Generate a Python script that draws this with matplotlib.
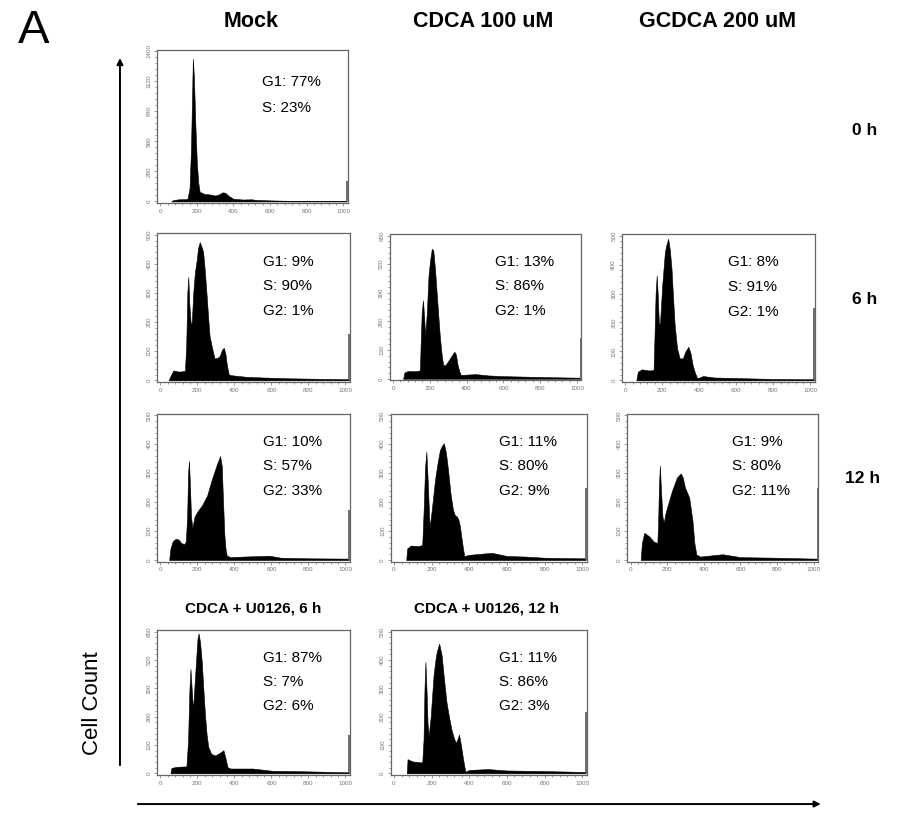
#!/usr/bin/env python3
import matplotlib
matplotlib.use("Agg")
import matplotlib.pyplot as plt
from matplotlib.patches import FancyArrowPatch
from matplotlib.ticker import MultipleLocator, AutoMinorLocator

plt.rcParams['font.family'] = ['Liberation Sans', 'DejaVu Sans']

# column / row labels
col_labels = ["Mock", "CDCA 100 uM", "GCDCA 200 uM"]
row_labels = ["0 h", "6 h", "12 h"]
sub_titles = ["CDCA + U0126, 6 h", "CDCA + U0126, 12 h"]

# histograms: DNA content channel vs cell count
mock_0h_ch = [60, 70, 100, 148, 160, 168, 174, 178, 184, 192, 200, 208, 215, 240, 270, 300, 320, 340, 355, 375,
              400, 450, 500, 520, 560, 600, 700, 800, 900, 1000, 1018]
mock_0h_cnt = [0, 12, 20, 22, 120, 500, 1000, 1330, 1150, 700, 350, 170, 90, 70, 65, 55, 65, 85, 80, 50,
               25, 18, 20, 15, 12, 10, 6, 5, 4, 3, 3]

mock_6h_ch = [45, 55, 71, 100, 133, 140, 146, 151, 157, 165, 170, 178, 187, 196, 204, 213, 222, 231, 240, 249,
              258, 266, 280, 293, 311, 322, 333, 343, 352, 360, 370, 380, 420, 470, 550, 700, 800, 1000, 1018]
mock_6h_cnt = [0, 15, 34, 30, 32, 120, 300, 355, 260, 190, 200, 300, 372, 410, 454, 475, 460, 442, 380, 303,
               220, 153, 110, 75, 78, 85, 105, 112, 90, 50, 20, 18, 15, 12, 10, 7, 6, 4, 4]

cdca_6h_ch = [55, 62, 80, 120, 146, 150, 156, 163, 169, 175, 184, 193, 202, 211, 219, 228, 237, 245, 254, 263,
              272, 285, 298, 315, 333, 342, 351, 360, 368, 380, 450, 520, 600, 700, 800, 1000, 1018]
cdca_6h_cnt = [0, 28, 35, 34, 38, 150, 300, 356, 280, 198, 300, 469, 540, 590, 582, 500, 394, 300, 198, 120,
               63, 62, 78, 100, 123, 110, 63, 35, 18, 18, 21, 15, 12, 10, 8, 5, 5]

gcdca_6h_ch = [60, 68, 90, 130, 153, 158, 164, 170, 176, 182, 188, 200, 214, 223, 232, 241, 250, 258, 267, 280,
               294, 311, 325, 341, 352, 364, 377, 390, 420, 480, 600, 800, 1000, 1018]
gcdca_6h_cnt = [0, 30, 38, 34, 36, 150, 300, 362, 290, 190, 200, 330, 443, 470, 489, 450, 385, 290, 190, 110,
                76, 76, 100, 116, 95, 53, 25, 7, 15, 10, 8, 5, 4, 4]

mock_12h_ch = [48, 55, 67, 85, 100, 111, 129, 138, 145, 150, 155, 160, 166, 173, 185, 200, 226, 253, 279, 306,
               323, 332, 339, 346, 352, 359, 380, 450, 590, 650, 800, 1000, 1018]
mock_12h_cnt = [0, 40, 65, 74, 70, 60, 54, 65, 150, 300, 342, 260, 150, 111, 150, 167, 190, 223, 280, 331,
                359, 325, 200, 88, 40, 15, 10, 12, 15, 8, 6, 5, 5]

cdca_12h_ch = [65, 70, 90, 130, 150, 158, 165, 172, 180, 189, 200, 218, 230, 244, 255, 265, 276, 287, 300, 313,
               323, 333, 342, 350, 362, 373, 400, 519, 600, 700, 800, 1000, 1018]
cdca_12h_cnt = [0, 40, 50, 48, 52, 180, 320, 374, 260, 111, 170, 277, 330, 380, 395, 403, 370, 311, 230, 174,
                155, 151, 140, 117, 60, 14, 18, 25, 14, 12, 8, 6, 6]

gcdca_12h_ch = [55, 62, 75, 101, 128, 146, 150, 155, 160, 166, 174, 181, 190, 199, 226, 253, 274, 285, 297, 320,
                338, 348, 359, 380, 502, 600, 800, 1000, 1018]
gcdca_12h_cnt = [0, 60, 94, 82, 63, 59, 120, 260, 326, 240, 150, 129, 160, 181, 239, 285, 299, 285, 250, 216,
                 135, 60, 19, 12, 20, 10, 8, 5, 5]

u0126_6h_ch = [55, 60, 90, 141, 150, 157, 163, 170, 177, 186, 195, 201, 207, 215, 224, 233, 242, 250, 259, 275,
               294, 310, 328, 341, 352, 363, 380, 500, 600, 800, 1000, 1018]
u0126_6h_cnt = [0, 25, 30, 32, 150, 380, 479, 380, 292, 420, 541, 620, 642, 600, 510, 380, 261, 180, 121, 90,
                82, 88, 98, 106, 70, 28, 22, 22, 12, 9, 5, 5]

u0126_12h_ch = [68, 72, 98, 130, 150, 157, 162, 167, 173, 178, 184, 195, 210, 220, 227, 240, 253, 266, 279, 292,
                305, 318, 328, 337, 345, 353, 362, 372, 379, 400, 500, 600, 800, 1000, 1018]
u0126_12h_cnt = [0, 50, 42, 40, 38, 120, 300, 393, 290, 180, 131, 200, 345, 400, 429, 458, 417, 330, 250, 200,
                 155, 125, 107, 120, 137, 110, 71, 30, 6, 12, 15, 10, 8, 5, 5]

# off-scale events piled in the last channel
edge_counts = [190, 160, 183, 250, 173, 248, 250, 176, 217]

# y axis top and tick step per panel
y_max = [1400, 500, 650, 500, 500, 500, 500, 650, 500]
y_step = [280, 100, 130, 100, 100, 100, 100, 130, 100]

# cell cycle phase labels per panel
phase_text = [
    ["G1: 77%", "S: 23%"],
    ["G1: 9%", "S: 90%", "G2: 1%"],
    ["G1: 13%", "S: 86%", "G2: 1%"],
    ["G1: 8%", "S: 91%", "G2: 1%"],
    ["G1: 10%", "S: 57%", "G2: 33%"],
    ["G1: 11%", "S: 80%", "G2: 9%"],
    ["G1: 9%", "S: 80%", "G2: 11%"],
    ["G1: 87%", "S: 7%", "G2: 6%"],
    ["G1: 11%", "S: 86%", "G2: 3%"],
]

hists = [
    (mock_0h_ch, mock_0h_cnt), (mock_6h_ch, mock_6h_cnt), (cdca_6h_ch, cdca_6h_cnt),
    (gcdca_6h_ch, gcdca_6h_cnt), (mock_12h_ch, mock_12h_cnt), (cdca_12h_ch, cdca_12h_cnt),
    (gcdca_12h_ch, gcdca_12h_cnt), (u0126_6h_ch, u0126_6h_cnt), (u0126_12h_ch, u0126_12h_cnt),
]

# panel boxes in figure fractions [left, bottom, width, height]
boxes = [
    [0.1744, 0.750, 0.212, 0.189],
    [0.1744, 0.530, 0.2144, 0.183], [0.433, 0.532, 0.213, 0.180], [0.691, 0.530, 0.2144, 0.182],
    [0.1744, 0.309, 0.2144, 0.182], [0.434, 0.309, 0.218, 0.182], [0.697, 0.309, 0.212, 0.182],
    [0.1744, 0.0467, 0.2144, 0.178], [0.434, 0.0467, 0.218, 0.178],
]

fig = plt.figure(figsize=(9, 8.13), dpi=100)

for i, box in enumerate(boxes):
    ax = fig.add_axes(box)
    ch, cnt = hists[i]
    ax.fill_between(ch, cnt, 0, color='black', lw=0.4, edgecolor='black')
    ax.vlines(1021, 0, edge_counts[i], color='#555555', lw=1.2)
    ax.set_xlim(-18, 1024)
    ax.set_ylim(-0.012 * y_max[i], 1.01 * y_max[i])
    ax.xaxis.set_major_locator(MultipleLocator(200))
    ax.xaxis.set_minor_locator(AutoMinorLocator(5))
    ax.yaxis.set_major_locator(MultipleLocator(y_step[i]))
    ax.yaxis.set_minor_locator(AutoMinorLocator(5))
    ax.tick_params(which='both', direction='out', color='#888888', width=0.6, labelsize=4.5,
                   labelcolor='#777777', pad=1.5)
    ax.tick_params(which='major', length=2.5)
    ax.tick_params(which='minor', length=1.3)
    for lab in ax.get_yticklabels():
        lab.set_rotation(90)
        lab.set_va('center')
    for sp in ax.spines.values():
        sp.set_color('#666666')
        sp.set_linewidth(0.9)
    ys = [0.79, 0.62] if len(phase_text[i]) == 2 else [0.81, 0.645, 0.475]
    for t, y in zip(phase_text[i], ys):
        ax.text(0.55, y, t, transform=ax.transAxes, fontsize=11, va='center', ha='left')

# headers
fig.text(0.02, 0.962, "A", fontsize=34, va='center', ha='left')
for x, t in zip([0.279, 0.537, 0.797], col_labels):
    fig.text(x, 0.973, t, fontsize=15.5, fontweight='bold', ha='center', va='center')
for (x, y), t in zip([(0.961, 0.840), (0.961, 0.631), (0.958, 0.412)], row_labels):
    fig.text(x, y, t, fontsize=12.5, fontweight='bold', ha='center', va='center')
for x, t in zip([0.281, 0.541], sub_titles):
    fig.text(x, 0.251, t, fontsize=11, fontweight='bold', ha='center', va='center')

# axis arrows
fig.add_artist(FancyArrowPatch((0.1333, 0.0554), (0.1333, 0.932), transform=fig.transFigure,
                               arrowstyle='-|>', mutation_scale=9, lw=1.4, color='black'))
fig.add_artist(FancyArrowPatch((0.150, 0.011), (0.915, 0.011), transform=fig.transFigure,
                               arrowstyle='-|>', mutation_scale=9, lw=1.4, color='black'))
fig.text(0.103, 0.135, "Cell Count", fontsize=16, rotation=90, ha='center', va='center')

plt.savefig("out.png", dpi=100)
